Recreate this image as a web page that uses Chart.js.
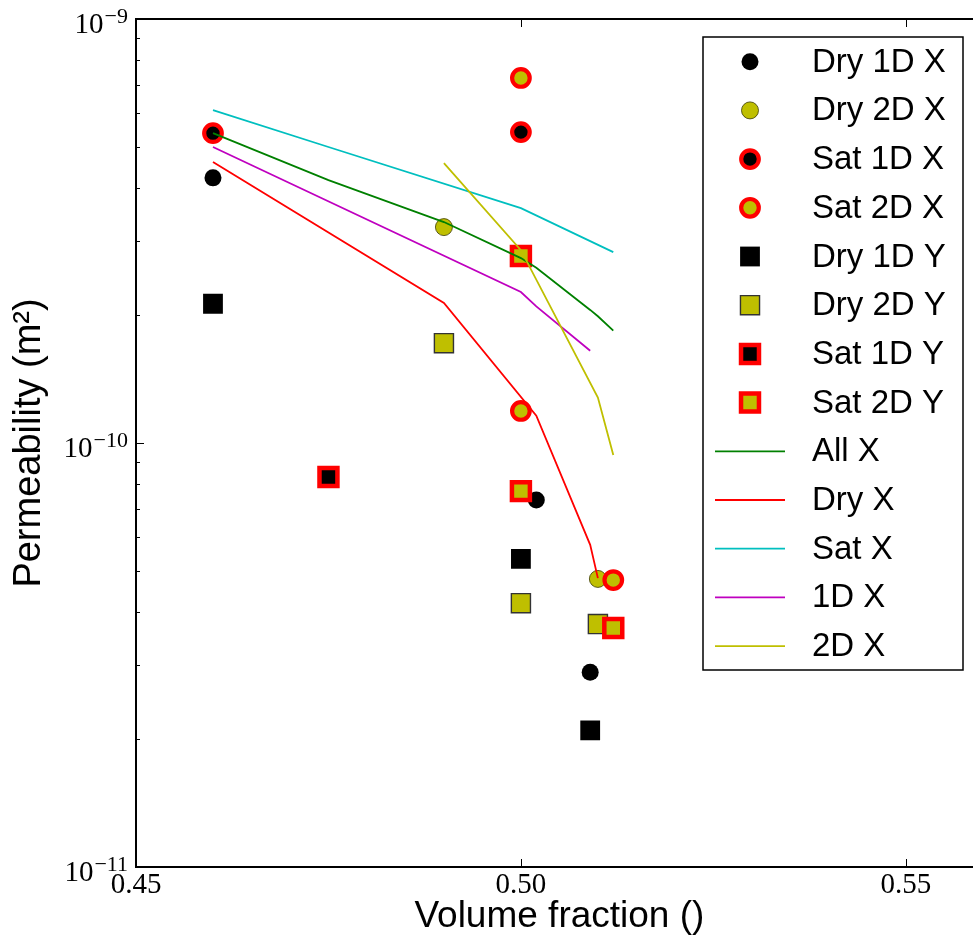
<!DOCTYPE html>
<html>
<head>
<meta charset="utf-8">
<script src="https://cdn.jsdelivr.net/npm/chart.js@4.4.1/dist/chart.umd.min.js"></script>
<style>
html, body { margin: 0; padding: 0; background: #fff; overflow: hidden; }
#chart { display: block; }
</style>
</head>
<body>
<canvas id="chart" width="1000" height="942"></canvas>
<script>
// Permeability vs volume fraction

const xTicks = [0.45, 0.50, 0.55];
const yMajorTicks = [1e-11, 1e-10, 1e-9];

// measured samples (markers)
const dry1dX_x = [0.46, 0.502, 0.509];
const dry1dX_y = [4.22e-10, 7.34e-11, 2.88e-11];
const dry2dX_x = [0.49, 0.51];
const dry2dX_y = [3.23e-10, 4.78e-11];
const sat1dX_x = [0.46, 0.50];
const sat1dX_y = [5.38e-10, 5.41e-10];
const sat2dX_x = [0.50, 0.50, 0.512];
const sat2dX_y = [7.26e-10, 1.19e-10, 4.75e-11];
const dry1dY_x = [0.46, 0.50, 0.509];
const dry1dY_y = [2.13e-10, 5.33e-11, 2.10e-11];
const dry2dY_x = [0.49, 0.50, 0.51];
const dry2dY_y = [1.72e-10, 4.19e-11, 3.74e-11];
const sat1dY_x = [0.475];
const sat1dY_y = [8.31e-11];
const sat2dY_x = [0.50, 0.50, 0.512];
const sat2dY_y = [2.76e-10, 7.70e-11, 3.66e-11];

// fitted curves (lines)
const allX_x = [0.46, 0.475, 0.49, 0.50, 0.502, 0.509, 0.51, 0.512];
const allX_y = [5.38e-10, 4.17e-10, 3.32e-10, 2.73e-10, 2.59e-10, 2.06e-10, 1.99e-10, 1.84e-10];
const dryX_x = [0.46, 0.49, 0.502, 0.509, 0.51];
const dryX_y = [4.60e-10, 2.14e-10, 1.16e-10, 5.75e-11, 4.80e-11];
const satX_x = [0.46, 0.475, 0.50, 0.512];
const satX_y = [6.10e-10, 4.99e-10, 3.58e-10, 2.82e-10];
const oneDX_x = [0.46, 0.50, 0.502, 0.509];
const oneDX_y = [4.99e-10, 2.27e-10, 2.10e-10, 1.65e-10];
const twoDX_x = [0.49, 0.50, 0.51, 0.512];
const twoDX_y = [4.57e-10, 2.85e-10, 1.28e-10, 9.37e-11];

const OLIVE = '#bfbf00';
const RED = '#ff0000';

const pts = (xs, ys) => xs.map((x, i) => ({ x, y: ys[i] }));

function marker(label, xs, ys, style, face, edge, bw, r) {
    return {
        label, data: pts(xs, ys), showLine: false,
        pointStyle: style, pointRadius: r, pointHoverRadius: r,
        backgroundColor: face, borderColor: edge, pointBorderWidth: bw, borderWidth: bw
    };
}

function curve(label, xs, ys, color) {
    return {
        label, data: pts(xs, ys), showLine: true, pointRadius: 0, pointHoverRadius: 0,
        borderColor: color, backgroundColor: color, borderWidth: 1.8, tension: 0
    };
}

const datasets = [
    marker('Dry 1D X', dry1dX_x, dry1dX_y, 'circle', '#000', '#000', 0, 8.5),
    marker('Dry 2D X', dry2dX_x, dry2dX_y, 'circle', OLIVE, '#3a3a00', 0.8, 8.5),
    marker('Sat 1D X', sat1dX_x, sat1dX_y, 'circle', '#000', RED, 4.2, 8.8),
    marker('Sat 2D X', sat2dX_x, sat2dX_y, 'circle', OLIVE, RED, 4.2, 8.8),
    marker('Dry 1D Y', dry1dY_x, dry1dY_y, 'rect', '#000', '#000', 0, 14),
    marker('Dry 2D Y', dry2dY_x, dry2dY_y, 'rect', OLIVE, '#333', 1.4, 13.5),
    marker('Sat 1D Y', sat1dY_x, sat1dY_y, 'rect', '#000', RED, 4.5, 12.7),
    marker('Sat 2D Y', sat2dY_x, sat2dY_y, 'rect', OLIVE, RED, 4.5, 12.7),
    curve('All X', allX_x, allX_y, '#008000'),
    curve('Dry X', dryX_x, dryX_y, RED),
    curve('Sat X', satX_x, satX_y, '#00bfbf'),
    curve('1D X', oneDX_x, oneDX_y, '#bf00bf'),
    curve('2D X', twoDX_x, twoDX_y, OLIVE)
];
// later datasets on top, like the original
datasets.forEach((d, i) => { d.order = datasets.length - i; });

// spines, inward ticks and 10^n labels
const frameTicks = {
    id: 'frameTicks',
    afterDatasetsDraw(chart) {
        const { ctx, chartArea: a, scales: { x, y } } = chart;
        ctx.save();
        ctx.strokeStyle = '#000';
        ctx.lineWidth = 1;
        ctx.beginPath();
        xTicks.forEach(v => {
            const px = Math.round(x.getPixelForValue(v)) + 0.5;
            ctx.moveTo(px, a.bottom); ctx.lineTo(px, a.bottom - 8);
            ctx.moveTo(px, a.top); ctx.lineTo(px, a.top + 8);
        });
        for (let e = -11; e <= -9; e++) {
            for (let m = 1; m <= 9; m++) {
                const v = m * Math.pow(10, e);
                if (v > 1.0001e-9) break;
                const py = Math.round(y.getPixelForValue(v)) + 0.5;
                const len = m === 1 ? 8 : 4;
                ctx.moveTo(a.left, py); ctx.lineTo(a.left + len, py);
                ctx.moveTo(a.right, py); ctx.lineTo(a.right - len, py);
            }
        }
        ctx.stroke();

        ctx.lineWidth = 2;
        ctx.strokeRect(a.left, a.top, a.right - a.left, a.bottom - a.top);

        ctx.fillStyle = '#000';
        ctx.textAlign = 'right';
        ctx.textBaseline = 'alphabetic';
        yMajorTicks.forEach(v => {
            const py = y.getPixelForValue(v);
            const exp = '\u2212' + Math.round(-Math.log10(v));
            ctx.font = '22px "Liberation Serif"';
            const ew = ctx.measureText(exp).width;
            ctx.fillText(exp, 128, py + 4);
            ctx.font = '29px "Liberation Serif"';
            ctx.fillText('10', 128 - ew - 1, py + 14);
        });
        ctx.restore();
    }
};

// legend box in the upper right corner
const legendBox = {
    id: 'legendBox',
    afterDraw(chart) {
        const { ctx } = chart;
        const box = { left: 703, top: 37, right: 963, bottom: 670 };
        ctx.save();
        ctx.fillStyle = '#fff';
        ctx.fillRect(box.left, box.top, box.right - box.left, box.bottom - box.top);
        ctx.strokeStyle = '#000';
        ctx.lineWidth = 1.5;
        ctx.strokeRect(box.left, box.top, box.right - box.left, box.bottom - box.top);

        chart.data.datasets.forEach((d, i) => {
            const cy = 61.7 + i * 48.7;
            if (d.showLine) {
                ctx.strokeStyle = d.borderColor;
                ctx.lineWidth = d.borderWidth;
                ctx.beginPath();
                ctx.moveTo(715, cy); ctx.lineTo(785, cy);
                ctx.stroke();
            } else {
                ctx.fillStyle = d.backgroundColor;
                ctx.strokeStyle = d.borderColor;
                ctx.lineWidth = d.pointBorderWidth;
                Chart.helpers.drawPoint(ctx, {
                    pointStyle: d.pointStyle, radius: d.pointRadius,
                    rotation: 0, borderWidth: d.pointBorderWidth
                }, 750, cy);
            }
            ctx.fillStyle = '#000';
            ctx.font = '33px "Liberation Sans"';
            ctx.textAlign = 'left';
            ctx.textBaseline = 'middle';
            ctx.fillText(d.label, 812, cy + 1);
        });
        ctx.restore();
    }
};

new Chart(document.getElementById('chart'), {
    type: 'scatter',
    data: { datasets },
    options: {
        responsive: false,
        animation: false,
        layout: { padding: { top: 19, right: 9, left: 0, bottom: 0 } },
        plugins: { legend: { display: false }, tooltip: { enabled: false } },
        scales: {
            x: {
                type: 'linear', min: 0.45, max: 0.56,
                afterBuildTicks: s => { s.ticks = xTicks.map(v => ({ value: v })); },
                afterFit: s => { s.height = 75; },
                grid: { display: false, drawTicks: false },
                border: { display: false },
                ticks: {
                    padding: 1, color: '#000', autoSkip: false, maxRotation: 0,
                    font: { family: 'Liberation Serif', size: 29 },
                    callback: v => v.toFixed(2)
                },
                title: {
                    display: true, text: 'Volume fraction ()', color: '#000',
                    font: { family: 'Liberation Sans', size: 37 },
                    padding: { top: 0, bottom: 3 }
                }
            },
            y: {
                type: 'logarithmic', min: 1e-11, max: 1e-9,
                afterBuildTicks: s => { s.ticks = yMajorTicks.map(v => ({ value: v })); },
                afterFit: s => { s.width = 136; },
                grid: { display: false, drawTicks: false },
                border: { display: false },
                ticks: { display: false },
                title: {
                    display: true, text: 'Permeability (m\u00b2)', color: '#000',
                    font: { family: 'Liberation Sans', size: 38 },
                    padding: { top: 7, bottom: 0 }
                }
            }
        }
    },
    plugins: [frameTicks, legendBox]
});
</script>
</body>
</html>
